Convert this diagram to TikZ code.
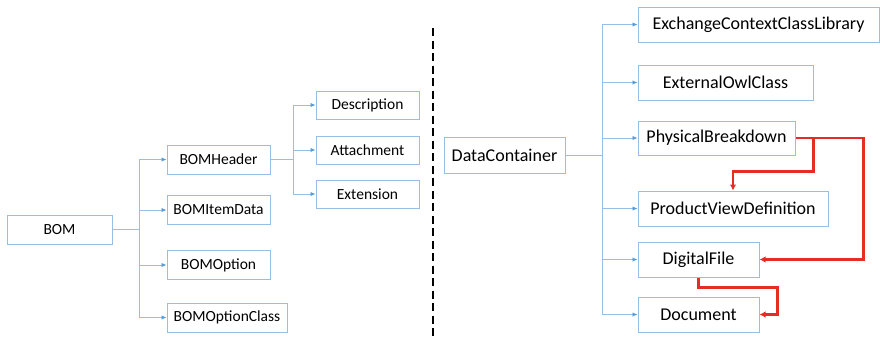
\documentclass[tikz,border=0pt]{standalone}
\usepackage{fontspec}
\setmainfont{Carlito}
\usetikzlibrary{arrows.meta}

\definecolor{boxblue}{RGB}{150,190,230}
\definecolor{tipblue}{RGB}{91,155,213}
\definecolor{linkred}{RGB}{228,45,35}

\begin{document}
\begin{tikzpicture}[
        x=1pt,y=-1pt,
        box/.style 2 args={draw=boxblue,line width=1pt,minimum width=#1,minimum height=#2,inner sep=0pt,font=\fontsize{15.5}{18}\selectfont},
        bigbox/.style 2 args={box={#1}{#2},font=\fontsize{18}{21}\selectfont},
        tree/.style={draw=boxblue,line width=0.9pt},
        treearrow/.style={tree,-{Latex[length=5pt,width=4.5pt,color=tipblue]}},
        dep/.style={draw=linkred,line width=2.4pt,-{Latex[length=6pt,width=6.5pt]}},
        divider/.style={line width=2pt,dash pattern=on 8pt off 4.5pt}
    ]
        \useasboundingbox (0,0) rectangle (880,340);

        % left tree
        \node [box={105}{29}] (bom)    at (59.5,229.5) {BOM};
        \node [box={103}{29}] (hdr)    at (218.5,159.5) {BOMHeader};
        \node [box={103}{29}] (item)   at (218.5,210) {BOMItemData};
        \node [box={103}{29}] (opt)    at (218.5,265) {BOMOption};
        \node [box={120}{29}] (optcls) at (227,317.5) {BOMOptionClass};

        \node [box={103}{28}] (desc)   at (367.5,105) {Description};
        \node [box={103}{28}] (attach) at (367.5,150) {Attachment};
        \node [box={103}{28}] (ext)    at (367.5,194) {Extension};

        \coordinate (j1) at (139,229.5);
        \draw [tree] (bom.east) -- (j1);
        \draw [tree] (j1 |- hdr.west) -- (j1 |- optcls.west);
        \foreach \n in {hdr,item,opt,optcls}
            \draw [treearrow] (j1 |- \n.west) -- (\n.west);

        \coordinate (j2) at (293,159.5);
        \draw [tree] (hdr.east) -- (j2);
        \draw [tree] (j2 |- desc.west) -- (j2 |- ext.west);
        \foreach \n in {desc,attach,ext}
            \draw [treearrow] (j2 |- \n.west) -- (\n.west);

        % separator
        \draw [divider] (433,28) -- (433,338);

        % right tree
        \node [bigbox={121}{36}] (data) at (504.5,155) {DataContainer};
        \node [bigbox={241}{35}] (ecl)  at (758.5,24.5) {ExchangeContextClassLibrary};
        \node [bigbox={175}{35}] (owl)  at (725.5,82.5) {ExternalOwlClass};
        \node [bigbox={157}{34}] (phys) at (716.5,138) {PhysicalBreakdown};
        \node [bigbox={190}{35}] (pvd)  at (733,208.5) {ProductViewDefinition};
        \node [bigbox={121}{35}] (dig)  at (698.5,259.5) {DigitalFile};
        \node [bigbox={121}{35}] (doc)  at (698.5,314.5) {Document};

        \coordinate (j3) at (602,155);
        \draw [tree] (data.east) -- (j3);
        \draw [tree] (j3 |- ecl.west) -- (j3 |- doc.west);
        \foreach \n in {ecl,owl,phys,pvd,dig,doc}
            \draw [treearrow] (j3 |- \n.west) -- (\n.west);

        % references
        \draw [dep] (phys.east) -- ++(68,0) |- (dig.east);
        \draw [dep] ([xshift=18pt]phys.east) |- ([yshift=19pt]pvd.north) -- (pvd.north);
        \draw [dep] (dig.south) -- ++(0,10) -| ([xshift=18pt]doc.east) -- (doc.east);
    \end{tikzpicture}
\end{document}
